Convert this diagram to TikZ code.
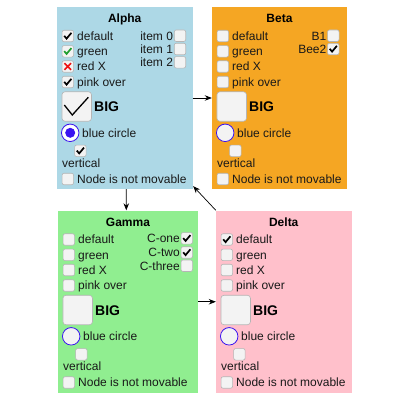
\documentclass[tikz,border=0pt]{standalone}
\usepackage{fontspec}
\setmainfont{Liberation Sans}
\usetikzlibrary{arrows.meta}
\definecolor{alphac}{HTML}{ADD8E6}
\definecolor{betac}{HTML}{F5A623}
\definecolor{gammac}{HTML}{90EE90}
\definecolor{deltac}{HTML}{FFC0CB}
\definecolor{cbfill}{HTML}{F3F3F3}
\definecolor{cbborder}{HTML}{B5B5B5}
\definecolor{radioc}{HTML}{3A12F0}
\definecolor{greenchk}{HTML}{1E9E2E}
\definecolor{redx}{HTML}{EE1111}
\tikzset{
 panelbox/.style={rectangle, inner sep=0pt, draw=none},
 titletext/.style={anchor=base, font=\bfseries\fontsize{12}{14}\selectfont, inner sep=0pt},
 lbl/.style={anchor=base west, font=\fontsize{12}{14}\selectfont, inner sep=0pt, text=black!90},
 rlbl/.style={anchor=base east, font=\fontsize{12}{14}\selectfont, inner sep=0pt, text=black!90},
 bigtext/.style={anchor=base west, font=\bfseries\fontsize{14}{16}\selectfont, inner sep=0pt},
 cbx/.style={rectangle, draw=cbborder, fill=cbfill, rounded corners=2pt, minimum size=11.5pt, inner sep=0pt, line width=0.6pt},
 bigbox/.style={cbx, minimum size=29.5pt, rounded corners=3pt},
 radio/.style={circle, draw=radioc, fill=cbfill, minimum size=17.5pt, inner sep=0pt, line width=0.8pt},
 chk/.style={line width=1.7pt, line join=miter},
 conn/.style={-{Stealth[length=7pt,width=5.5pt]}, line width=0.7pt, black},
}
\newcommand\mypanel[7]{%
 \pgfmathsetmacro\pL{#2}\pgfmathsetmacro\pT{#3}%
 \pgfmathsetmacro\pW{#4-#2}\pgfmathsetmacro\pH{#5-#3}%
 \pgfmathsetmacro\pX{(#2+#4)/2}\pgfmathsetmacro\pY{(#3+#5)/2}%
 \node[panelbox, fill=#6, minimum width=\pW pt, minimum height=\pH pt] (#1) at (\pX,\pY) {};
 \node[titletext] (#1-title) at (\pX,\pT+15.8) {#7};
 \foreach \i/\t/\dy in {1/default/29,2/green/44.3,3/red X/59.5,4/pink over/75}{
   \node[cbx] (#1-cb\i) at (\pL+10.8,\pT+\dy) {};
   \node[lbl] (#1-l\i) at (\pL+20,\pT+\dy+4.3) {\t};
 }
 \node[bigbox] (#1-big) at (\pL+19.7,\pT+99.5) {};
 \node[bigtext] (#1-bigl) at (\pL+37,\pT+104.5) {BIG};
 \node[radio] (#1-radio) at (\pL+13.2,\pT+125.8) {};
 \node[lbl] (#1-radiol) at (\pL+25,\pT+130) {blue circle};
 \node[cbx] (#1-vert) at (\pL+23.4,\pT+143.8) {};
 \node[lbl] (#1-vertl) at (\pL+5,\pT+160.3) {vertical};
 \node[cbx] (#1-nm) at (\pL+10.8,\pT+172) {};
 \node[lbl] (#1-nml) at (\pL+20,\pT+176.3) {Node is not movable};
}
\newcommand\rcb[5]{%
 \node[cbx] (#1) at (#2,#3) {};
 \node[rlbl] (#1-l) at (#2-6.8,#3+4.3) {#5};
}
\newcommand\mychk[2]{\draw[chk,#2] ([shift={(-3.6pt,0.2pt)}]#1.center) -- ([shift={(-1.2pt,-2.6pt)}]#1.center) -- ([shift={(3.6pt,3.2pt)}]#1.center);}
\begin{document}
\begin{tikzpicture}[x=1pt,y=-1pt]
\fill[white] (0,0) rectangle (400,400);
\useasboundingbox (0,0) rectangle (400,400);
% Alpha
\mypanel{A}{57}{7}{192.5}{189}{alphac}{Alpha}
\rcb{A-r1}{180}{35.7}{}{item 0}
\rcb{A-r2}{180}{49}{}{item 1}
\rcb{A-r3}{180}{62.3}{}{item 2}
\mychk{A-cb1}{black}
\mychk{A-cb2}{greenchk}
\draw[chk,redx,line width=1.6pt] ([shift={(-3.3pt,3.3pt)}]A-cb3.center) -- ([shift={(3.3pt,-3.3pt)}]A-cb3.center)
  ([shift={(-3.3pt,-3.3pt)}]A-cb3.center) -- ([shift={(3.3pt,3.3pt)}]A-cb3.center);
\mychk{A-cb4}{black}
\mychk{A-vert}{black}
\draw[line width=1.3pt, black] ([shift={(-12.4pt,1.5pt)}]A-big.center) -- ([shift={(-4.4pt,-8.5pt)}]A-big.center) -- ([shift={(11.6pt,9.2pt)}]A-big.center);
\path[fill=white] (A-radio.center) circle (7.6pt);
\fill[radioc] (A-radio.center) circle (5pt);
% Beta
\mypanel{B}{212}{7}{347}{189}{betac}{Beta}
\rcb{B-r1}{333.3}{35.7}{}{B1}
\rcb{B-r2}{333.3}{49}{}{Bee2}
\mychk{B-r2}{black}
% Gamma
\mypanel{G}{58}{210.5}{198}{393}{gammac}{Gamma}
\rcb{G-r1}{186.8}{238.3}{}{C-one}
\rcb{G-r2}{186.8}{252.5}{}{C-two}
\rcb{G-r3}{186.8}{265.7}{}{C-three}
\mychk{G-r1}{black}
\mychk{G-r2}{black}
% Delta
\mypanel{D}{216}{210.5}{351.5}{393}{deltac}{Delta}
\mychk{D-cb1}{black}
% connectors
\draw[conn] (A.east) -- (B.west);
\draw[conn] ([xshift=1.5pt]A.south) -- ([xshift=-1.7pt]G.north);
\draw[conn] (G.east) -- (D.west);
\draw[conn] (D.north west) -- ([shift={(0.5pt,3pt)}]A.south east);
\end{tikzpicture}
\end{document}
